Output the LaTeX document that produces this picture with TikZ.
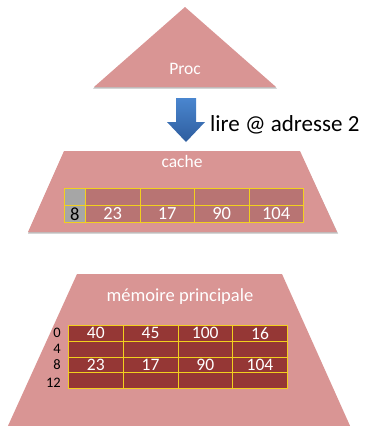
\documentclass[tikz,border=0pt]{standalone}
\usepackage{fontspec}
\setmainfont{Carlito}
\definecolor{pinkfill}{HTML}{D99594}
\definecolor{cachecell}{HTML}{B87473}
\definecolor{memcell}{HTML}{953735}
\definecolor{cellline}{HTML}{F2D01E}
\definecolor{graycell}{HTML}{A6A6A6}
\definecolor{arrowtop}{HTML}{4A86CF}
\definecolor{arrowbot}{HTML}{2E5D9E}
\tikzset{
  layer/.style={fill=pinkfill},
  shadowlayer/.style={fill=black!25},
  ttl/.style={text=white, font=\fontsize{17.5}{19}\selectfont},
  ccell/.style={draw=cellline, line width=0.8pt, fill=cachecell, anchor=north west, inner sep=0pt,
     minimum width=54.5pt, minimum height=17pt, text=white, font=\fontsize{18.5}{19}\selectfont},
  gcell/.style={ccell, fill=graycell, minimum width=21pt, text=black},
  mcell/.style={draw=cellline, line width=0.8pt, fill=memcell, anchor=north west, inner sep=0pt,
     minimum width=54.75pt, minimum height=15.75pt, text=white, font=\fontsize{17.5}{18}\selectfont},
  rowlbl/.style={anchor=east, inner sep=0pt, font=\fontsize{14.5}{15}\selectfont},
}
\begin{document}
\begin{tikzpicture}[x=1pt,y=-1pt]
\useasboundingbox (0,0) rectangle (368,426);
% processor
\fill[shadowlayer] (185,8.5) -- (277,88.5) -- (93,88.5) -- cycle;
\fill[layer] (185,7) -- (276,87) -- (94,87) -- cycle;
\node[ttl] (proc) at (185,69) {Proc};
% arrow
\shade[top color=arrowtop, bottom color=arrowbot]
  (176,98) -- (196,98) -- (196,122) -- (205,122) -- (186,142) -- (167,122) -- (176,122) -- cycle;
\node[anchor=west, inner sep=0pt, font=\fontsize{23}{26}\selectfont] (lire) at (210,125) {lire @ adresse 2};
% cache
\fill[shadowlayer] (64,152.5) -- (300,152.5) -- (338,233.5) -- (28,233.5) -- cycle;
\fill[layer] (64,151) -- (300,151) -- (337,232) -- (28,232) -- cycle;
\node[ttl] (cache) at (182,161) {cache};
\node[gcell] (g1) at (64,188) {};
\node[gcell] (g2) at (64,205) {8};
\node[ccell] (c11) at (85,188) {};
\node[ccell] (c12) at (139.5,188) {};
\node[ccell] (c13) at (194,188) {};
\node[ccell] (c14) at (248.5,188) {};
\node[ccell] (c21) at (85,205) {23};
\node[ccell] (c22) at (139.5,205) {17};
\node[ccell] (c23) at (194,205) {90};
\node[ccell] (c24) at (248.5,205) {104};
% main memory
\fill[layer] (77,274) -- (282,274) -- (351,428) -- (7,428) -- cycle;
\node[ttl, font=\fontsize{18.5}{20}\selectfont] (mem) at (180,297) {mémoire principale};
\node[mcell] (m11) at (68,325) {40};
\node[mcell] (m12) at (122.75,325) {45};
\node[mcell] (m13) at (177.5,325) {100};
\node[mcell] (m14) at (232.25,325) {16};
\node[mcell] (m21) at (68,340.75) {};
\node[mcell] (m22) at (122.75,340.75) {};
\node[mcell] (m23) at (177.5,340.75) {};
\node[mcell] (m24) at (232.25,340.75) {};
\node[mcell] (m31) at (68,356.5) {23};
\node[mcell] (m32) at (122.75,356.5) {17};
\node[mcell] (m33) at (177.5,356.5) {90};
\node[mcell] (m34) at (232.25,356.5) {104};
\node[mcell] (m41) at (68,372.25) {};
\node[mcell] (m42) at (122.75,372.25) {};
\node[mcell] (m43) at (177.5,372.25) {};
\node[mcell] (m44) at (232.25,372.25) {};
\node[rowlbl] (r0) at (61,333) {0};
\node[rowlbl] (r4) at (61,349) {4};
\node[rowlbl] (r8) at (61,365) {8};
\node[rowlbl] (r12) at (61,383) {12};
\end{tikzpicture}
\end{document}
